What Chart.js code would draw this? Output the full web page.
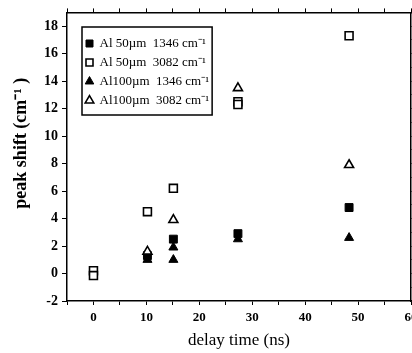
<!DOCTYPE html>
<html>
<head>
<meta charset="utf-8">
<script src="https://cdn.jsdelivr.net/npm/chart.js@4"></script>
<style>
  html, body { margin: 0; padding: 0; background: #fff; overflow: hidden; width: 412px; height: 353px; }
  canvas { display: block; }
</style>
</head>
<body>
<canvas id="shiftChart" width="430" height="353"></canvas>
<script>
//////////////////////////////
// Data
//////////////////////////////

const seriesLabels = [
  "Al 50\u00b5m  1346 cm\u207b\u00b9",
  "Al 50\u00b5m  3082 cm\u207b\u00b9",
  "Al100\u00b5m  1346 cm\u207b\u00b9",
  "Al100\u00b5m  3082 cm\u207b\u00b9"
];

const delay50_1346 = [10.2, 15.1, 27.3, 48.3];
const shift50_1346 = [1.3, 2.5, 2.9, 4.8];

const delay50_3082 = [0, 0, 10.2, 15.1, 27.3, 27.3, 48.3];
const shift50_3082 = [0.2, -0.15, 4.5, 6.2, 12.5, 12.3, 17.3];

const delay100_1346 = [10.2, 15.1, 15.1, 27.3, 48.3];
const shift100_1346 = [1.0, 1.9, 1.0, 2.5, 2.6];

const delay100_3082 = [10.2, 15.1, 27.3, 48.3];
const shift100_3082 = [1.6, 3.9, 13.5, 7.9];

const xMin = -5, xMax = 60;
const yMin = -2, yMax = 19;

const toPoints = (xs, ys) => xs.map((x, i) => ({ x: x, y: ys[i] }));

// legend order as in the figure (dataset indexes)
const legendOrder = [2, 0, 3, 1];

//////////////////////////////
// Legend inside the plot, with a frame
//////////////////////////////

const legendBox = {
  id: "legendBox",
  afterLayout(chart) {
    const lg = chart.legend;
    if (!lg) return;
    lg.left += 13;
    lg.right += 13;
    lg.top += 31;
    lg.bottom += 31;
  },
  afterDraw(chart) {
    const lg = chart.legend;
    if (!lg || !lg.legendHitBoxes.length) return;
    let l = Infinity, r = -Infinity, t = Infinity, b = -Infinity;
    lg.legendHitBoxes.forEach(h => {
      l = Math.min(l, h.left);
      r = Math.max(r, h.left + h.width);
      t = Math.min(t, h.top);
      b = Math.max(b, h.top + h.height);
    });
    const ctx = chart.ctx;
    ctx.save();
    ctx.strokeStyle = "#000";
    ctx.lineWidth = 1.5;
    ctx.strokeRect(l - 4, t - 10, (r - l) + 7, (b - t) + 18);
    ctx.restore();
  }
};

const serif = "'Liberation Serif', 'Times New Roman', serif";

const plainAxis = (position) => ({
  type: "linear",
  position: position,
  ticks: { display: false },
  grid: { drawOnChartArea: false, drawTicks: true, tickLength: 4, color: "#000" },
  border: { display: true, color: "#000", width: 1.5 }
});

document.addEventListener("DOMContentLoaded", () => {
  const ctx = document.getElementById("shiftChart").getContext("2d");

  new Chart(ctx, {
    type: "scatter",
    data: {
      datasets: [
        {
          label: seriesLabels[1],
          data: toPoints(delay50_3082, shift50_3082),
          pointStyle: "rect",
          pointRadius: 5.6,
          borderWidth: 1.6,
          borderColor: "#000",
          backgroundColor: "#fff"
        },
        {
          label: seriesLabels[3],
          data: toPoints(delay100_3082, shift100_3082),
          pointStyle: "triangle",
          pointRadius: 5.2,
          borderWidth: 1.6,
          borderColor: "#000",
          backgroundColor: "#fff"
        },
        {
          label: seriesLabels[0],
          data: toPoints(delay50_1346, shift50_1346),
          pointStyle: "rect",
          pointRadius: 5.6,
          borderWidth: 1,
          borderColor: "#000",
          backgroundColor: "#000"
        },
        {
          label: seriesLabels[2],
          data: toPoints(delay100_1346, shift100_1346),
          pointStyle: "triangle",
          pointRadius: 5.2,
          borderWidth: 1,
          borderColor: "#000",
          backgroundColor: "#000"
        }
      ]
    },
    options: {
      responsive: false,
      animation: false,
      layout: { padding: 0 },
      plugins: {
        tooltip: { enabled: false },
        legend: {
          display: true,
          position: "chartArea",
          align: "start",
          labels: {
            usePointStyle: true,
            boxWidth: 7,
            boxHeight: 7,
            padding: 6,
            color: "#000",
            font: { family: serif, size: 13 },
            sort: (a, b) => legendOrder.indexOf(a.datasetIndex) - legendOrder.indexOf(b.datasetIndex)
          }
        }
      },
      scales: {
        x: {
          type: "linear",
          position: "bottom",
          min: xMin,
          max: xMax,
          afterFit: (s) => { s.height = 52; },
          ticks: {
            stepSize: 5,
            padding: 5,
            color: "#000",
            font: { family: serif, size: 13, weight: "bold" },
            callback: (v) => (v % 10 === 0 ? v : "")
          },
          grid: { drawOnChartArea: false, drawTicks: true, tickLength: 4, color: "#000" },
          border: { display: true, color: "#000", width: 1.5 },
          title: {
            display: true,
            text: "delay time (ns)",
            color: "#000",
            font: { family: serif, size: 17 },
            padding: { top: 4, bottom: 2 }
          }
        },
        y: {
          type: "linear",
          position: "left",
          min: yMin,
          max: yMax,
          afterFit: (s) => { s.width = 67; },
          ticks: {
            stepSize: 1,
            padding: 4,
            color: "#000",
            font: { family: serif, size: 14, weight: "bold" },
            callback: (v) => (v % 2 === 0 ? v : "")
          },
          grid: { drawOnChartArea: false, drawTicks: true, tickLength: 5, color: "#000" },
          border: { display: true, color: "#000", width: 1.5 },
          title: {
            display: true,
            text: "      peak shift (cm\u207b\u00b9 )",
            color: "#000",
            font: { family: serif, size: 18, weight: "bold" },
            padding: { top: 11, bottom: 4 }
          }
        },
        x2: Object.assign(plainAxis("top"), {
          min: xMin,
          max: xMax,
          ticks: { display: false, stepSize: 5 },
          afterFit: (s) => { s.height = 12; }
        }),
        y2: Object.assign(plainAxis("right"), {
          min: yMin,
          max: yMax,
          ticks: { display: false, stepSize: 1 },
          afterFit: (s) => { s.width = 19; }
        })
      }
    },
    plugins: [legendBox]
  });
});
</script>
</body>
</html>
